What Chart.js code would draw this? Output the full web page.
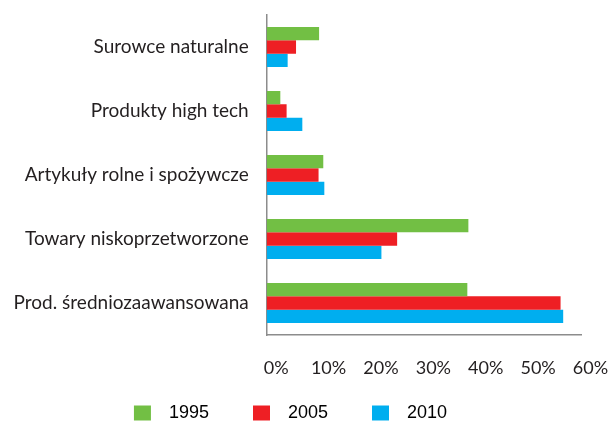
<!DOCTYPE html>
<html>
<head>
<meta charset="utf-8">
<script src="https://cdn.jsdelivr.net/npm/chart.js@4"></script>
<style>
  html, body { margin: 0; padding: 0; background: #fff; }
  #wrap { width: 612px; height: 421px; position: relative; }
</style>
</head>
<body>
<div id="wrap"><canvas id="exportChart"></canvas></div>
<script>
const categories = [
  'Surowce naturalne',
  'Produkty high tech',
  'Artykuły rolne i spożywcze',
  'Towary niskoprzetworzone',
  'Prod. średniozaawansowana',
];
const years = ['1995', '2005', '2010'];
const values1995 = [10.0, 2.6, 10.8, 38.5, 38.3];
const values2005 = [5.6, 3.8, 9.9, 24.9, 56.1];
const values2010 = [4.0, 6.8, 11.0, 21.9, 56.6];
const xTicks = [0, 10, 20, 30, 40, 50, 60];

const colors = ['#72bf44', '#ee1f24', '#00aeef'];
const series = [values1995, values2005, values2010];

const datasets = series.map((data, i) => ({
  label: years[i],
  data,
  backgroundColor: colors[i],
  borderWidth: 0,
  barPercentage: 1,
  categoryPercentage: 0.625,
}));

const ctx = document.getElementById('exportChart');
const chart = new Chart(ctx, {
  type: 'bar',
  data: { labels: categories, datasets },
  options: {
    indexAxis: 'y',
    responsive: true,
    maintainAspectRatio: false,
    animation: false,
    layout: { padding: { top: 15, right: 31, bottom: 0, left: 0 } },
    scales: {
      x: {
        min: xTicks[0],
        max: xTicks[xTicks.length - 1],
        afterBuildTicks: (axis) => {
          axis.ticks = xTicks.map((v) => ({ value: v }));
        },
        afterFit: (axis) => {
          axis.height = 61;
          axis.paddingRight = 0;
          axis.paddingLeft = 0;
        },
        grid: { display: false, drawTicks: false },
        border: { display: true, color: '#8c8c8c', width: 1.5 },
        ticks: {
          padding: 22,
          labelOffset: 9.5,
          color: '#231f20',
          font: { family: 'Lato', size: 18 },
          callback: (v) => v + '%',
        },
      },
      y: {
        afterFit: (axis) => {
          axis.width = 266.7;
          axis.paddingTop = 0;
          axis.paddingBottom = 0;
        },
        grid: { display: false, drawTicks: false },
        border: { display: true, color: '#8c8c8c', width: 1.5 },
        ticks: {
          padding: 18,
          color: '#231f20',
          font: { family: 'Lato', size: 19 },
        },
      },
    },
    plugins: {
      tooltip: { enabled: false },
      legend: {
        position: 'bottom',
        maxHeight: 25,
        labels: {
          boxWidth: 17,
          boxHeight: 15,
          padding: 8,
          color: '#000',
          font: { family: 'Liberation Sans', size: 18 },
          generateLabels: (c) => c.data.datasets.map((ds, i) => ({
            // en space before, em spaces after to reproduce the wide item gaps
            text: '\u2002' + ds.label + (i < c.data.datasets.length - 1 ? '\u2003\u2003' : ''),
            fillStyle: ds.backgroundColor,
            strokeStyle: ds.backgroundColor,
            lineWidth: 0,
            hidden: false,
            datasetIndex: i,
          })),
        },
      },
    },
  },
});
</script>
</body>
</html>
